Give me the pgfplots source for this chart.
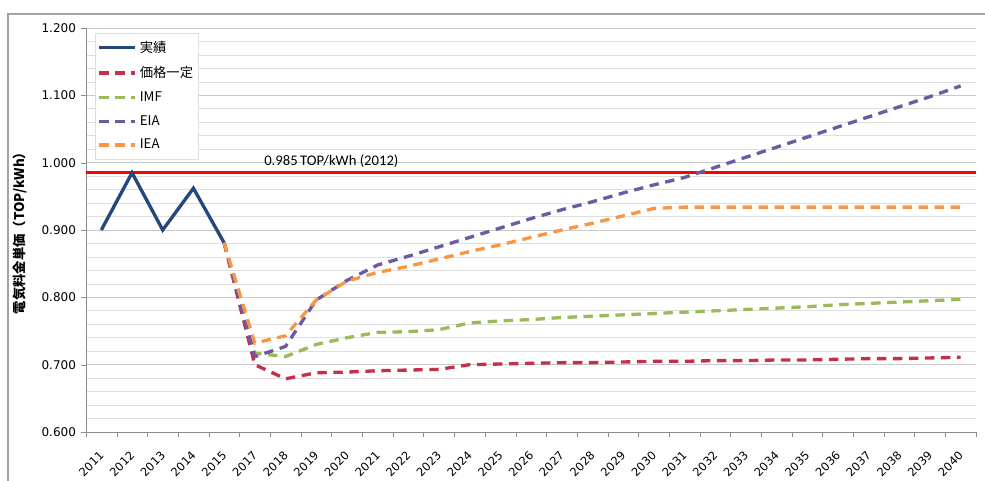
\documentclass[border=0pt]{standalone}
\usepackage{pgfplots}
\pgfplotsset{compat=1.18}
\usepackage{fontspec}
\newfontfamily\djv{DejaVu Sans}
\newfontfamily\cjk{Noto Sans CJK JP}
\newfontfamily\carl{Carlito}
\definecolor{cNavy}{RGB}{35,72,125}
\definecolor{cRed}{RGB}{196,48,72}
\definecolor{cGreen}{RGB}{155,187,89}
\definecolor{cPurple}{RGB}{110,90,162}
\definecolor{cOrange}{RGB}{247,150,70}
\definecolor{cGrid}{RGB}{200,200,200}
\definecolor{cMinor}{RGB}{222,222,222}
\definecolor{cAxis}{RGB}{140,140,140}
\begin{document}
\begin{tikzpicture}
\useasboundingbox (0,0) rectangle (738.75pt,360pt);
\draw[cAxis!80, line width=0.8pt] (6pt,-10pt) rectangle (750pt,349.5pt);
\begin{axis}[
  at={(64.5pt,36pt)}, anchor=south west,
  scale only axis, width=667.5pt, height=303pt,
  xmin=-0.5, xmax=28.5, ymin=0.6, ymax=1.2,
  axis x line=bottom, axis y line=left,
  axis line style={cAxis, -},
  xtick={0,...,28},
  xticklabels={2011,2012,2013,2014,2015,2017,2018,2019,2020,2021,2022,2023,2024,2025,2026,2027,2028,2029,2030,2031,2032,2033,2034,2035,2036,2037,2038,2039,2040},
  minor xtick={-0.5,0.5,...,28.5},
  major x tick style={draw=none},
  minor x tick style={cAxis},
  ytick={0.6,0.7,...,1.2},
  minor y tick num=4,
  major y tick style={cAxis},
  minor y tick style={draw=none},
  tick align=outside, major tick length=4pt, minor tick length=4pt,
  ymajorgrids, yminorgrids,
  major grid style={cGrid, line width=0.6pt},
  minor grid style={cMinor, line width=0.5pt},
  /pgf/number format/assume math mode=true,
  yticklabel style={font=\djv\fontsize{9}{10}\selectfont, /pgf/number format/.cd, fixed, fixed zerofill, precision=3},
  xticklabel style={font=\djv\fontsize{8.6}{10}\selectfont, rotate=45, anchor=north east, yshift=-2pt, xshift=-5pt},
  ylabel={\cjk\bfseries 電気料金単価（TOP/kWh）},
  ylabel style={font=\fontsize{10}{12}\selectfont, at={(axis description cs:-0.074,0.5)}, anchor=center},
  legend style={at={(0.01,0.988)}, anchor=north west, draw=cMinor, fill=white,
    font=\cjk\fontsize{10}{12}\selectfont, row sep=5pt, inner xsep=2pt, inner ysep=4pt},
  legend cell align=left,
  legend image code/.code={\draw[#1] (0pt,0pt) -- (27pt,0pt);},
  every axis plot/.append style={line width=2.5pt},
]
\addplot[red, line width=2pt, forget plot] coordinates {(-0.5,0.985) (28.5,0.985)};
\addplot[cNavy] coordinates {(0,0.900) (1,0.985) (2,0.900) (3,0.962) (4,0.881)};
\addlegendentry{実績}
\addplot[cRed, dash pattern=on 7pt off 5pt] coordinates {
(4,0.881) (5,0.700) (6,0.679) (7,0.688) (8,0.689) (9,0.691) (10,0.692) (11,0.693) (12,0.700) (13,0.701) (14,0.702) (15,0.703) (16,0.703) (17,0.704) (18,0.705) (19,0.705) (20,0.706) (21,0.706) (22,0.707) (23,0.707) (24,0.708) (25,0.709) (26,0.709) (27,0.710) (28,0.711)};
\addlegendentry{価格一定}
\addplot[cGreen, dash pattern=on 7pt off 5pt] coordinates {
(4,0.881) (5,0.717) (6,0.712) (7,0.730) (8,0.740) (9,0.748) (10,0.749) (11,0.752) (12,0.762) (13,0.765) (14,0.767) (15,0.770) (16,0.772) (17,0.774) (18,0.776) (19,0.778) (20,0.780) (21,0.782) (22,0.784) (23,0.786) (24,0.789) (25,0.791) (26,0.793) (27,0.795) (28,0.797)};
\addlegendentry{IMF}
\addplot[cPurple, dash pattern=on 7pt off 5pt] coordinates {
(4,0.881) (5,0.712) (6,0.727) (7,0.796) (8,0.825) (9,0.848) (10,0.861) (11,0.875) (12,0.889) (13,0.903) (14,0.917) (15,0.930) (16,0.942) (17,0.955) (18,0.967) (19,0.978) (20,0.993) (21,1.008) (22,1.023) (23,1.038) (24,1.053) (25,1.068) (26,1.083) (27,1.098) (28,1.114)};
\addlegendentry{EIA}
\addplot[cOrange, dash pattern=on 7pt off 5pt] coordinates {
(4,0.881) (5,0.732) (6,0.743) (7,0.796) (8,0.824) (9,0.837) (10,0.846) (11,0.857) (12,0.868) (13,0.878) (14,0.889) (15,0.900) (16,0.910) (17,0.921) (18,0.932) (19,0.934) (20,0.934) (21,0.934) (22,0.934) (23,0.934) (24,0.934) (25,0.934) (26,0.934) (27,0.934) (28,0.934)};
\addlegendentry{IEA}
\node[anchor=south west, font=\carl\fontsize{11}{12}\selectfont, inner sep=0pt] at (axis cs:5.3,0.992) {0.985\,TOP/kWh (2012)};
\end{axis}
\end{tikzpicture}
\end{document}
